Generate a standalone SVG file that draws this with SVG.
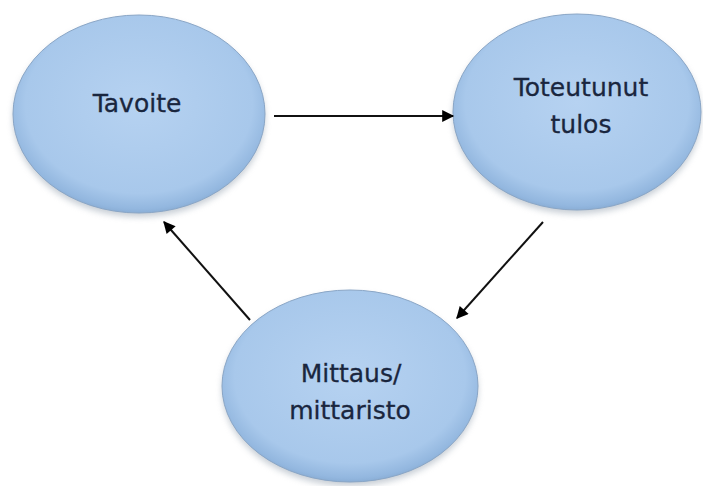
<svg xmlns="http://www.w3.org/2000/svg" width="703" height="486" viewBox="0 0 703 486">
<defs>
<radialGradient id="fill" cx="50%" cy="45%" r="55%">
<stop offset="0" stop-color="#b6d2f1"/>
<stop offset="0.82" stop-color="#a8c8eb"/>
<stop offset="0.96" stop-color="#93b7df"/>
<stop offset="1" stop-color="#8aaed6"/>
</radialGradient>
<filter id="shadow" x="-20%" y="-20%" width="140%" height="140%">
<feGaussianBlur stdDeviation="3"/>
</filter>
<marker id="arrow" viewBox="0 0 10 10" refX="9" refY="5" markerWidth="7" markerHeight="6" markerUnits="strokeWidth" orient="auto">
<path d="M0,0 L10,5 L0,10 z" fill="#000"/>
</marker>
<style>
.bg{fill:#fff}
.shadow{fill:#9aa6b3;opacity:0.55;filter:url(#shadow)}
.node{fill:url(#fill);stroke:#8aa6c6;stroke-width:1}
.lbl{font-family:"DejaVu Sans",sans-serif;font-size:25px;fill:#1a263e;stroke:#1a263e;stroke-width:0.3;text-anchor:middle}
.edge{stroke:#111;stroke-width:2;fill:none;marker-end:url(#arrow)}
</style>
</defs>
<rect class="bg" width="703" height="486"/>
<g id="node-tavoite">
<ellipse class="shadow" cx="139" cy="118" rx="126" ry="99"/>
<ellipse class="node" cx="139" cy="114" rx="126" ry="99"/>
<text class="lbl" x="137" y="112">Tavoite</text>
</g>
<g id="node-toteutunut">
<ellipse class="shadow" cx="577" cy="116" rx="124" ry="98"/>
<ellipse class="node" cx="577" cy="112" rx="124" ry="98"/>
<text class="lbl" x="581" y="96">Toteutunut</text>
<text class="lbl" x="581" y="133">tulos</text>
</g>
<g id="node-mittaus">
<ellipse class="shadow" cx="350" cy="390" rx="128" ry="96"/>
<ellipse class="node" cx="350" cy="386" rx="128" ry="96"/>
<text class="lbl" x="351" y="382">Mittaus/</text>
<text class="lbl" x="350" y="419">mittaristo</text>
</g>
<g id="connectors">
<line class="edge" x1="274" y1="116" x2="453" y2="116"/>
<line class="edge" x1="543" y1="222" x2="457" y2="318"/>
<line class="edge" x1="250" y1="320" x2="164" y2="222"/>
</g>
</svg>
